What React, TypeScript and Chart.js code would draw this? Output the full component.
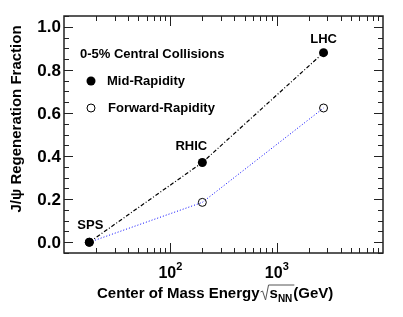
import { useEffect, useRef } from "react";
import { Chart, registerables } from "chart.js";
Chart.register(...registerables);

const energies = [17.3, 200, 2760];
const midRapidity = [0.0, 0.37, 0.88];
const forwardRapidity = [0.0, 0.185, 0.623];
const experiments = ["SPS", "RHIC", "LHC"];
const yTickLabels = ["0.0", "0.2", "0.4", "0.6", "0.8", "1.0"];
const yTickValues = [0, 0.2, 0.4, 0.6, 0.8, 1.0];
const xTickExponents = [2, 3];
const legendTitle = "0-5% Central Collisions";
const seriesNames = ["Mid-Rapidity", "Forward-Rapidity"];

const FONT = '"Liberation Sans", Arial, Helvetica, sans-serif';

const framePlugin = {
  id: "rootFrame",
  afterDatasetsDraw(chart: any) {
    const { ctx, chartArea } = chart;
    const { left, right, top, bottom } = chartArea;
    const xs = chart.scales.x;
    const ys = chart.scales.y;
    ctx.save();
    // frame
    ctx.strokeStyle = "#222";
    ctx.lineWidth = 1.5;
    ctx.strokeRect(left, top, right - left, bottom - top);
    ctx.lineWidth = 1;
    ctx.strokeStyle = "#222";
    // y ticks
    for (let i = -1; i <= 21; i++) {
      const v = i * 0.05;
      const py = Math.round(ys.getPixelForValue(v)) + 0.5;
      if (py < top - 0.5 || py > bottom + 0.5) continue;
      const major = i % 4 === 0;
      const len = major ? 9 : 5;
      ctx.beginPath();
      ctx.moveTo(left, py);
      ctx.lineTo(left + len, py);
      ctx.moveTo(right, py);
      ctx.lineTo(right - len, py);
      ctx.stroke();
    }
    // x ticks
    for (let d = 1; d <= 3; d++) {
      for (let m = 1; m <= 9; m++) {
        const v = m * Math.pow(10, d);
        if (v <= 10 || v >= 10000) continue;
        const px = Math.round(xs.getPixelForValue(v)) + 0.5;
        const len = m === 1 ? 10 : 5;
        ctx.beginPath();
        ctx.moveTo(px, bottom);
        ctx.lineTo(px, bottom - len);
        ctx.moveTo(px, top);
        ctx.lineTo(px, top + len);
        ctx.stroke();
      }
    }
    ctx.fillStyle = "#000";
    // y labels
    ctx.font = `bold 17px ${FONT}`;
    ctx.textAlign = "right";
    ctx.textBaseline = "middle";
    yTickValues.forEach((v, i) => {
      ctx.fillText(yTickLabels[i], left - 3, ys.getPixelForValue(v) + 1);
    });
    // x labels
    xTickExponents.forEach((e) => {
      const px = xs.getPixelForValue(Math.pow(10, e));
      ctx.font = `bold 16px ${FONT}`;
      ctx.textAlign = "center";
      ctx.textBaseline = "alphabetic";
      ctx.fillText("10", px - 3, bottom + 25);
      ctx.font = `bold 11px ${FONT}`;
      ctx.textAlign = "left";
      ctx.fillText(String(e), px + 6, bottom + 17);
    });
    // x title
    ctx.textBaseline = "alphabetic";
    ctx.textAlign = "left";
    ctx.font = `bold 15px ${FONT}`;
    let x = 97;
    const by = 298;
    const t1 = "Center of Mass Energy";
    ctx.fillText(t1, x, by);
    x += ctx.measureText(t1).width + 1;
    // radical
    const sW = ctx.measureText("s").width;
    ctx.font = `bold 10px ${FONT}`;
    const nnW = ctx.measureText("NN").width;
    const radW = sW + nnW + 2;
    ctx.beginPath();
    ctx.lineWidth = 1;
    ctx.strokeStyle = "#555";
    ctx.moveTo(x, by - 6);
    ctx.lineTo(x + 2, by - 7);
    ctx.lineTo(x + 5, by + 2);
    ctx.lineTo(x + 8, by - 13);
    ctx.lineTo(x + 9 + radW, by - 13);
    ctx.stroke();
    x += 9;
    ctx.font = `bold 15px ${FONT}`;
    ctx.fillText("s", x, by);
    x += sW;
    ctx.font = `bold 10px ${FONT}`;
    ctx.fillText("NN", x, by + 4);
    x += nnW + 1;
    ctx.font = `bold 15px ${FONT}`;
    ctx.fillText("(GeV)", x, by);
    // y title
    ctx.save();
    ctx.translate(21, 119);
    ctx.rotate(-Math.PI / 2);
    ctx.textAlign = "center";
    ctx.font = `bold 15px ${FONT}`;
    ctx.fillText("J/\u03c8 Regeneration Fraction", 0, 0);
    ctx.restore();
    // legend
    ctx.textAlign = "left";
    ctx.textBaseline = "middle";
    ctx.font = `bold 13px ${FONT}`;
    ctx.fillText(legendTitle, 80, 54);
    ctx.fillText(seriesNames[0], 107, 81);
    ctx.fillText(seriesNames[1], 108, 108);
    ctx.beginPath();
    ctx.arc(91, 81, 4.5, 0, Math.PI * 2);
    ctx.fill();
    ctx.beginPath();
    ctx.arc(91, 108, 4, 0, Math.PI * 2);
    ctx.lineWidth = 1;
    ctx.strokeStyle = "#000";
    ctx.stroke();
    // experiment labels
    ctx.font = `bold 13px ${FONT}`;
    ctx.textAlign = "center";
    const offs = [1, -11, 0];
    const voffs = [-17, -16, -13];
    experiments.forEach((name, i) => {
      const px = xs.getPixelForValue(energies[i]);
      const py = ys.getPixelForValue(midRapidity[i]);
      ctx.fillText(name, px + offs[i], py + voffs[i]);
    });
    ctx.restore();
  },
};

export default function App() {
  const ref = useRef<HTMLCanvasElement>(null);
  useEffect(() => {
    document.body.style.margin = "0";
    const chart = new Chart(ref.current!, {
      type: "scatter",
      data: {
        datasets: [
          {
            label: seriesNames[1],
            data: energies.map((e, i) => ({ x: e, y: forwardRapidity[i] })),
            showLine: true,
            borderColor: "#0000ff",
            borderWidth: 1,
            borderDash: [1, 2],
            pointRadius: 4,
            pointBorderColor: "#000",
            pointBorderWidth: 1,
            pointBackgroundColor: "rgba(0,0,0,0)",
            order: 2,
          },
          {
            label: seriesNames[0],
            data: energies.map((e, i) => ({ x: e, y: midRapidity[i] })),
            showLine: true,
            borderColor: "#000",
            borderWidth: 1.2,
            borderDash: [4, 2, 1, 2],
            pointRadius: 4.5,
            pointBorderColor: "#000",
            pointBorderWidth: 0,
            pointBackgroundColor: "#000",
            order: 1,
          },
        ],
      },
      options: {
        animation: false,
        responsive: false,
        devicePixelRatio: 1,
        layout: { padding: { left: 64, top: 16, right: 20, bottom: 64 } },
        plugins: { legend: { display: false }, tooltip: { enabled: false } },
        scales: {
          x: { type: "logarithmic", min: 10, max: 10000, display: false },
          y: { type: "linear", min: -0.05, max: 1.05, display: false },
        },
      },
      plugins: [framePlugin],
    });
    return () => chart.destroy();
  }, []);
  return <canvas ref={ref} width={403} height={317} style={{ display: "block", width: 403, height: 317 }} />;
}
